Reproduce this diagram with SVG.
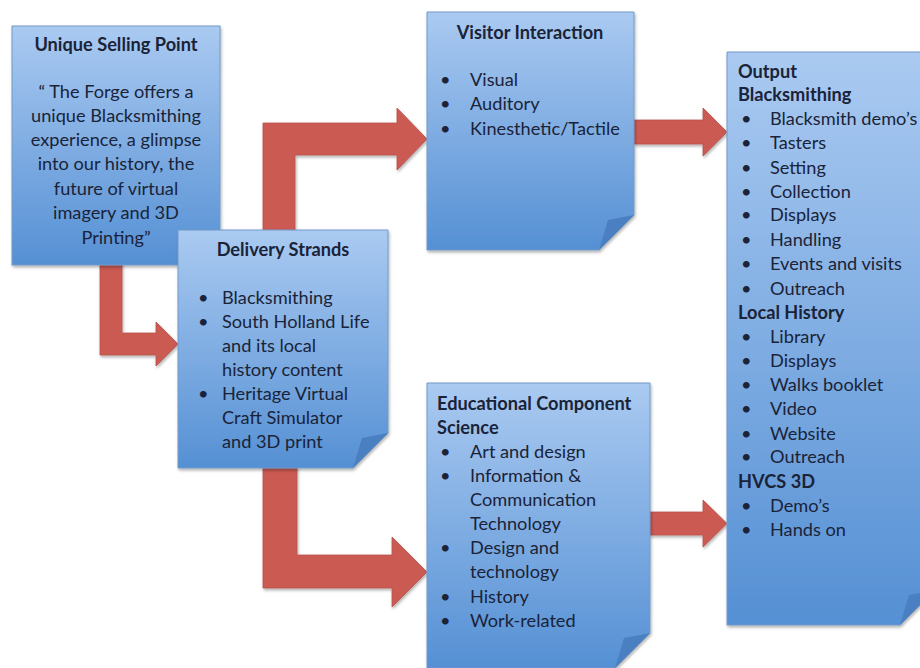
<svg xmlns="http://www.w3.org/2000/svg" width="920" height="668" viewBox="0 0 920 668">
<defs>
<linearGradient id="boxg" x1="0" y1="0" x2="0" y2="1">
<stop offset="0" stop-color="#AACAF1"/>
<stop offset="1" stop-color="#5590D4"/>
</linearGradient>
<filter id="sh" x="-10%" y="-10%" width="130%" height="130%">
<feDropShadow dx="1" dy="2" stdDeviation="1.5" flood-color="#000" flood-opacity="0.3"/>
</filter>
<style>
.box{fill:url(#boxg);stroke:#7399C8;stroke-width:1;filter:url(#sh)}
.fold{fill:#4A80C2;stroke:none}
.arr{fill:#CB5A52;stroke:#B8504A;stroke-width:0.8;filter:url(#sh)}
text{font-family:Lato,"Open Sans","Liberation Sans",sans-serif;font-size:18.2px;fill:#1A2338}
.b{font-weight:bold}
.c{text-anchor:middle}
</style>
</defs>
<rect width="920" height="668" fill="#fff"/>
<g id="connectors">
<path class="arr" d="M100,262 H122 V333 H156 V322 L178,344 L156,366 V355 H100 Z"/>
<path class="arr" d="M263,232 V123 H397 V108 L427,139 L397,170 V155 H295 V232 Z"/>
<path class="arr" d="M263,466 V588 H392 V607 L427,572 L392,537 V555 H297 V466 Z"/>
<path class="arr" d="M634,120 H703 V108 L727,132 L703,156 V144 H634 Z"/>
<path class="arr" d="M650,512 H703 V500 L727,523.5 L703,547 V535 H650 Z"/>
</g>
<g id="usp">
<rect class="box" x="12" y="26" width="208" height="239"/>
<text class="b c" x="116" y="51">Unique Selling Point</text>
<text class="c" x="116" y="98">“ The Forge offers a</text>
<text class="c" x="116" y="122">unique Blacksmithing</text>
<text class="c" x="116" y="146">experience, a glimpse</text>
<text class="c" x="116" y="170">into our history, the</text>
<text class="c" x="116" y="195">future of virtual</text>
<text class="c" x="116" y="219">imagery and 3D</text>
<text class="c" x="116" y="244">Printing”</text>
</g>
<g id="delivery">
<path class="box" d="M178,230 H388 V433 L353,468 H178 Z"/>
<path class="fold" d="M388,433 L353,468 L362,438 Z"/>
<text class="b c" x="283" y="256">Delivery Strands</text>
<text x="198" y="304">•</text><text x="222" y="304">Blacksmithing</text>
<text x="198" y="328">•</text><text x="222" y="328">South Holland Life</text>
<text x="222" y="352">and its local</text>
<text x="222" y="376">history content</text>
<text x="198" y="400">•</text><text x="222" y="400">Heritage Virtual</text>
<text x="222" y="424">Craft Simulator</text>
<text x="222" y="448">and 3D print</text>
</g>
<g id="visitor">
<path class="box" d="M427,12 H634 V215 L599,250 H427 Z"/>
<path class="fold" d="M634,215 L599,250 L608,220 Z"/>
<text class="b c" x="530" y="39">Visitor Interaction</text>
<text x="440" y="86">•</text><text x="470" y="86">Visual</text>
<text x="440" y="110">•</text><text x="470" y="110">Auditory</text>
<text x="440" y="135">•</text><text x="470" y="135">Kinesthetic/Tactile</text>
</g>
<g id="educational">
<path class="box" d="M427,383 H650 V633 L615,668 H427 Z"/>
<path class="fold" d="M650,633 L615,668 L624,638 Z"/>
<text class="b" x="437" y="410">Educational Component</text>
<text class="b" x="437" y="434">Science</text>
<text x="440" y="458">•</text><text x="470" y="458">Art and design</text>
<text x="440" y="482">•</text><text x="470" y="482">Information &amp;</text>
<text x="470" y="506">Communication</text>
<text x="470" y="530">Technology</text>
<text x="440" y="554">•</text><text x="470" y="554">Design and</text>
<text x="470" y="578">technology</text>
<text x="440" y="603">•</text><text x="470" y="603">History</text>
<text x="440" y="627">•</text><text x="470" y="627">Work-related</text>
</g>
<g id="output">
<path class="box" d="M727,52 H935 V590 L900,625 H727 Z"/>
<path class="fold" d="M935,590 L900,625 L909,595 Z"/>
<text class="b" x="738" y="78">Output</text>
<text class="b" x="738" y="101">Blacksmithing</text>
<text x="741" y="125">•</text><text x="770" y="125">Blacksmith demo’s</text>
<text x="741" y="149">•</text><text x="770" y="149">Tasters</text>
<text x="741" y="174">•</text><text x="770" y="174">Setting</text>
<text x="741" y="198">•</text><text x="770" y="198">Collection</text>
<text x="741" y="221">•</text><text x="770" y="221">Displays</text>
<text x="741" y="246">•</text><text x="770" y="246">Handling</text>
<text x="741" y="270">•</text><text x="770" y="270">Events and visits</text>
<text x="741" y="295">•</text><text x="770" y="295">Outreach</text>
<text class="b" x="738" y="319">Local History</text>
<text x="741" y="343">•</text><text x="770" y="343">Library</text>
<text x="741" y="367">•</text><text x="770" y="367">Displays</text>
<text x="741" y="391">•</text><text x="770" y="391">Walks booklet</text>
<text x="741" y="415">•</text><text x="770" y="415">Video</text>
<text x="741" y="440">•</text><text x="770" y="440">Website</text>
<text x="741" y="463">•</text><text x="770" y="463">Outreach</text>
<text class="b" x="738" y="488">HVCS 3D</text>
<text x="741" y="512">•</text><text x="770" y="512">Demo’s</text>
<text x="741" y="536">•</text><text x="770" y="536">Hands on</text>
</g>
</svg>
